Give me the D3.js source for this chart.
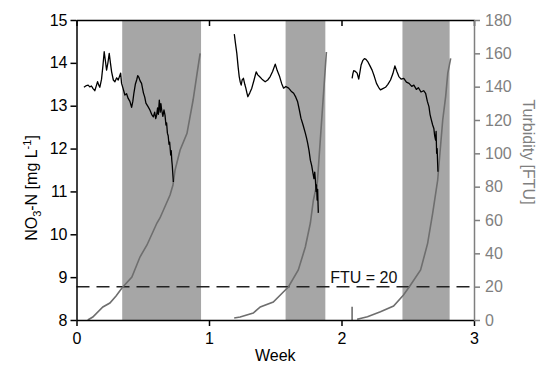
<!DOCTYPE html>
<html>
<head>
<meta charset="utf-8">
<script src="https://cdn.jsdelivr.net/npm/d3@7"></script>
<style>
  body { margin: 0; background: #fff; }
  svg { display: block; font-family: "Liberation Sans", Arial, sans-serif; }
</style>
</head>
<body>
<div id="chart"></div>
<script>
// ── Data (week, value) ──────────────────────────────────────────────────────
const weekTicks = [0, 1, 2, 3];
const no3Ticks = [8, 9, 10, 11, 12, 13, 14, 15];
const ftuTicks = [0, 20, 40, 60, 80, 100, 120, 140, 160, 180];

// night / shaded periods [start, end] in weeks
const bands = [[0.345, 0.94], [1.578, 1.878], [2.46, 2.816]];

const no3Seg1 = [
  [0.056, 13.43], [0.075, 13.47], [0.088, 13.48], [0.1, 13.44], [0.113, 13.46], [0.125, 13.4],
  [0.138, 13.35], [0.15, 13.47], [0.159, 13.56], [0.168, 13.48], [0.176, 13.43], [0.189, 13.62],
  [0.2, 13.95], [0.209, 14.26], [0.218, 14.05], [0.227, 13.83], [0.237, 14.0], [0.247, 14.22],
  [0.256, 14.0], [0.265, 13.79], [0.278, 13.6], [0.29, 13.56], [0.303, 13.65], [0.315, 13.6],
  [0.333, 13.76], [0.34, 13.52], [0.352, 13.4], [0.365, 13.25], [0.378, 13.28], [0.39, 13.17],
  [0.403, 13.1], [0.416, 12.96], [0.425, 13.1], [0.433, 13.29], [0.444, 13.5], [0.454, 13.6],
  [0.462, 13.7], [0.471, 13.66], [0.48, 13.58], [0.491, 13.52], [0.505, 13.3], [0.515, 13.2],
  [0.524, 13.06], [0.54, 12.98], [0.554, 12.9], [0.567, 12.8], [0.58, 12.74], [0.59, 12.85],
  [0.598, 12.7], [0.605, 12.78], [0.612, 12.95], [0.618, 12.8], [0.625, 13.13], [0.632, 12.85],
  [0.637, 13.05], [0.643, 12.9], [0.652, 12.75], [0.66, 12.9], [0.668, 12.78], [0.675, 12.55],
  [0.68, 12.6], [0.686, 12.36], [0.692, 12.3], [0.698, 12.1], [0.703, 12.15], [0.706, 12.04],
  [0.711, 11.85], [0.715, 11.95], [0.719, 11.73], [0.723, 11.6], [0.727, 11.4], [0.731, 11.22]
];

const no3Seg2 = [
  [1.191, 14.67], [1.2, 14.45], [1.21, 14.22], [1.22, 13.9], [1.228, 13.68], [1.236, 13.55],
  [1.243, 13.48], [1.25, 13.6], [1.26, 13.64], [1.27, 13.5], [1.278, 13.41], [1.286, 13.3],
  [1.293, 13.21], [1.308, 13.3], [1.323, 13.41], [1.34, 13.6], [1.356, 13.79], [1.368, 13.72],
  [1.381, 13.68], [1.4, 13.62], [1.424, 13.56], [1.443, 13.6], [1.462, 13.68], [1.48, 13.8],
  [1.5, 13.97], [1.515, 13.82], [1.533, 13.68], [1.548, 13.52], [1.563, 13.41], [1.58, 13.45],
  [1.601, 13.41], [1.62, 13.34], [1.639, 13.29], [1.655, 13.2], [1.669, 13.09], [1.682, 12.9],
  [1.694, 12.71], [1.71, 12.55], [1.727, 12.36], [1.736, 12.25], [1.745, 12.12], [1.755, 11.95],
  [1.765, 11.73], [1.775, 11.6], [1.785, 11.42], [1.792, 11.3], [1.798, 11.45], [1.803, 11.27],
  [1.808, 11.0], [1.812, 11.15], [1.816, 10.8], [1.82, 11.05], [1.823, 10.7], [1.825, 10.5]
];

const no3Seg3 = [
  [2.08, 13.64], [2.086, 13.75], [2.092, 13.82], [2.105, 13.8], [2.118, 13.76], [2.13, 13.62],
  [2.14, 13.8], [2.148, 13.95], [2.16, 14.05], [2.173, 14.1], [2.185, 14.08], [2.198, 14.03],
  [2.215, 13.93], [2.231, 13.83], [2.248, 13.68], [2.264, 13.52], [2.28, 13.43], [2.294, 13.37],
  [2.312, 13.4], [2.332, 13.43], [2.35, 13.5], [2.37, 13.6], [2.388, 13.75], [2.403, 13.93],
  [2.418, 13.8], [2.433, 13.68], [2.45, 13.62], [2.47, 13.64], [2.49, 13.55], [2.51, 13.52],
  [2.53, 13.45], [2.546, 13.48], [2.565, 13.38], [2.58, 13.42], [2.6, 13.32], [2.62, 13.35],
  [2.635, 13.29], [2.648, 13.1], [2.66, 12.98], [2.668, 12.8], [2.678, 12.67], [2.688, 12.55],
  [2.697, 12.47], [2.703, 12.3], [2.71, 12.2], [2.714, 12.4], [2.718, 11.89], [2.722, 12.0],
  [2.725, 11.7], [2.728, 11.46]
];

const ftuSeg1 = [
  [0.085, 0], [0.123, 1.8], [0.199, 7.8], [0.252, 10.2], [0.3, 14.5], [0.343, 19.2],
  [0.418, 25.8], [0.479, 37.8], [0.532, 45], [0.607, 58.2], [0.63, 61.2], [0.706, 75],
  [0.728, 81], [0.744, 90], [0.782, 102], [0.834, 112], [0.88, 132], [0.91, 148], [0.933, 160]
];

const ftuSeg2 = [
  [1.19, 1.2], [1.235, 1.8], [1.334, 4.2], [1.387, 7.8], [1.485, 10.8], [1.561, 16.8],
  [1.599, 19.8], [1.674, 30], [1.727, 43.8], [1.765, 58.2], [1.788, 72], [1.818, 82.8],
  [1.886, 160.8]
];

// short spike before the third run
const ftuSpike = [[2.08, 0], [2.08, 8]];

const ftuSeg3 = [
  [2.118, 0.4], [2.196, 2], [2.294, 5], [2.393, 8.4], [2.468, 15], [2.521, 21],
  [2.597, 30], [2.65, 46], [2.688, 64], [2.726, 84], [2.764, 120], [2.786, 134],
  [2.802, 148], [2.824, 157]
];

const ftuThreshold = 20;

// ── Layout ─────────────────────────────────────────────────────────────────
const W = 539, H = 366;
const M = { top: 20, right: 65, bottom: 46, left: 76.5 };

const svg = d3.select("#chart").append("svg").attr("width", W).attr("height", H);

const x = d3.scaleLinear().domain([0, 3]).range([M.left, W - M.right]);
const yL = d3.scaleLinear().domain([8, 15]).range([H - M.bottom, M.top]);
const yR = d3.scaleLinear().domain([0, 180]).range([H - M.bottom, M.top]);

const GRAY = "#7f7f7f";

// ── Shaded bands ───────────────────────────────────────────────────────────
svg.append("g")
  .selectAll("rect")
  .data(bands)
  .join("rect")
  .attr("x", (d) => x(d[0]))
  .attr("width", (d) => x(d[1]) - x(d[0]))
  .attr("y", M.top)
  .attr("height", yL(8) - M.top)
  .attr("fill", "#a6a6a6");

// ── Threshold line ─────────────────────────────────────────────────────────
svg.append("line")
  .attr("x1", x(0)).attr("x2", x(3))
  .attr("y1", yR(ftuThreshold)).attr("y2", yR(ftuThreshold))
  .attr("stroke", "#222").attr("stroke-width", 1.5)
  .attr("stroke-dasharray", "13 7");

svg.append("text")
  .attr("x", x(1.915))
  .attr("y", yR(ftuThreshold) - 4)
  .attr("font-size", 16)
  .attr("fill", "#111")
  .text("FTU = 20");

// ── Series ─────────────────────────────────────────────────────────────────
const lineR = d3.line().x((d) => x(d[0])).y((d) => yR(d[1]));
const lineL = d3.line().x((d) => x(d[0])).y((d) => yL(d[1]));

svg.append("g")
  .selectAll("path")
  .data([ftuSeg1, ftuSeg2, ftuSpike, ftuSeg3])
  .join("path")
  .attr("d", lineR)
  .attr("fill", "none")
  .attr("stroke", "#6e6e6e")
  .attr("stroke-width", 1.6);

svg.append("g")
  .selectAll("path")
  .data([no3Seg1, no3Seg2, no3Seg3])
  .join("path")
  .attr("d", lineL)
  .attr("fill", "none")
  .attr("stroke", "#000")
  .attr("stroke-width", 1.3)
  .attr("stroke-linejoin", "round");

// ── Axes ───────────────────────────────────────────────────────────────────
const fmt = d3.format("d");

const bottomAx = svg.append("g")
  .attr("transform", `translate(0,${H - M.bottom})`)
  .call(d3.axisBottom(x).tickValues(weekTicks).tickFormat(fmt).tickSize(6).tickSizeOuter(0));

const topAx = svg.append("g")
  .attr("transform", `translate(0,${M.top})`)
  .call(d3.axisBottom(x).tickValues(weekTicks).tickFormat("").tickSize(6).tickSizeOuter(0));

const leftAx = svg.append("g")
  .attr("transform", `translate(${M.left},0)`)
  .call(d3.axisLeft(yL).tickValues(no3Ticks).tickFormat(fmt).tickSize(6).tickSizeOuter(0));

const rightAx = svg.append("g")
  .attr("transform", `translate(${W - M.right},0)`)
  .call(d3.axisRight(yR).tickValues(ftuTicks).tickFormat(fmt).tickSize(6).tickSizeOuter(0));

for (const ax of [bottomAx, topAx, leftAx]) {
  ax.select(".domain").attr("stroke", "#000").attr("stroke-width", 1.5);
  ax.selectAll(".tick line").attr("stroke", "#000").attr("stroke-width", 1.5);
  ax.selectAll(".tick text").attr("fill", "#000").attr("font-size", 16)
    .style("font-family", "'Liberation Sans', Arial, sans-serif");
}
bottomAx.selectAll(".tick text").attr("dy", "0.95em");
leftAx.selectAll(".tick text").attr("x", -9);

rightAx.select(".domain").attr("stroke", GRAY).attr("stroke-width", 1.5);
rightAx.selectAll(".tick line").attr("stroke", GRAY).attr("stroke-width", 1.5);
rightAx.selectAll(".tick text").attr("fill", GRAY).attr("font-size", 16).attr("x", 11)
  .style("font-family", "'Liberation Sans', Arial, sans-serif");

// ── Axis titles ────────────────────────────────────────────────────────────
svg.append("text")
  .attr("x", x(1.5))
  .attr("y", H - 5)
  .attr("text-anchor", "middle")
  .attr("font-size", 16)
  .text("Week");

const yTitle = svg.append("text")
  .attr("transform", `translate(37,188) rotate(-90)`)
  .attr("text-anchor", "middle")
  .attr("font-size", 16);
yTitle.append("tspan").text("NO");
yTitle.append("tspan").attr("font-size", 11).attr("dy", 4).text("3");
yTitle.append("tspan").attr("dy", -4).text("-N [mg L");
yTitle.append("tspan").attr("font-size", 11).attr("dy", -6).text("-1");
yTitle.append("tspan").attr("dy", 6).text("]");

svg.append("text")
  .attr("transform", `translate(523,152) rotate(90)`)
  .attr("text-anchor", "middle")
  .attr("font-size", 16)
  .attr("fill", GRAY)
  .text("Turbidity [FTU]");
</script>
</body>
</html>
